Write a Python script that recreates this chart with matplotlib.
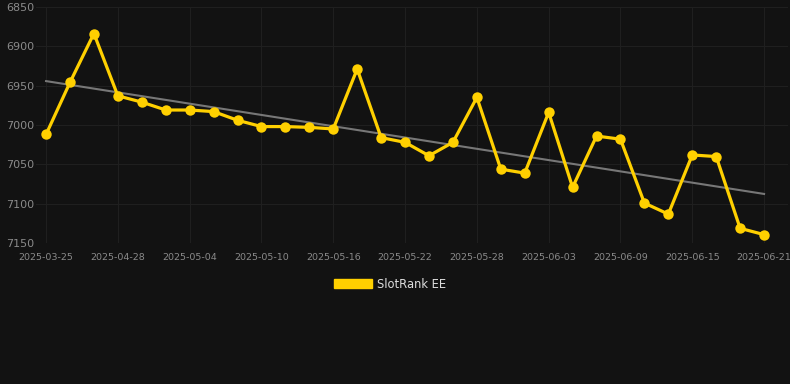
import numpy as np
import matplotlib.pyplot as plt
from matplotlib.patches import Patch

# daily rank values (lower is better, axis is inverted)
dates = ["2025-03-25", "2025-04-24", "2025-04-26", "2025-04-28", "2025-04-30",
         "2025-05-02", "2025-05-04", "2025-05-06", "2025-05-08", "2025-05-10",
         "2025-05-12", "2025-05-14", "2025-05-16", "2025-05-18", "2025-05-20",
         "2025-05-22", "2025-05-24", "2025-05-26", "2025-05-28", "2025-05-30",
         "2025-06-01", "2025-06-03", "2025-06-05", "2025-06-07", "2025-06-09",
         "2025-06-11", "2025-06-13", "2025-06-15", "2025-06-17", "2025-06-19",
         "2025-06-21"]
rank = [7012, 6946, 6884, 6963, 6971, 6981, 6981, 6983, 6994, 7002,
        7002, 7003, 7005, 6929, 7016, 7022, 7039, 7022, 6965, 7056,
        7061, 6984, 7079, 7014, 7018, 7099, 7113, 7038, 7040, 7131,
        7139]
series_name = "SlotRank EE"
y_ticks = [6850, 6900, 6950, 7000, 7050, 7100, 7150]

bg = "#121212"
gold = "#FFD000"

fig = plt.figure(figsize=(7.9, 3.84), dpi=100, facecolor=bg)
ax = fig.add_axes([36 / 790, 1 - 243.3 / 384, 752 / 790, 236.6 / 384])
ax.set_facecolor(bg)

x = np.arange(len(rank))

# trend line
k, b = np.polyfit(x, rank, 1)
ax.plot(x, k * x + b, color="#777777", linewidth=1.5, zorder=2)

ax.plot(x, rank, color=gold, linewidth=2.3, marker="o", markersize=7.5,
        markeredgewidth=0, zorder=3)

ax.set_ylim(7150, 6850)
ax.set_yticks(y_ticks)
ax.set_xlim(-0.42, 31.0)
tick_idx = x[::3]
ax.set_xticks(tick_idx)
ax.set_xticklabels([dates[i] for i in tick_idx])

ax.grid(True, color="#1f1f1f", linewidth=0.8)
ax.set_axisbelow(True)
for s in ax.spines.values():
    s.set_visible(False)
ax.tick_params(axis="y", length=0, pad=1, labelcolor="#8a8a8a", labelsize=8)
ax.tick_params(axis="x", length=0, pad=7, labelcolor="#8a8a8a", labelsize=6.8)

handle = Patch(facecolor=gold, edgecolor=gold)
fig.legend([handle], [series_name], loc="center", bbox_to_anchor=(390 / 790, 1 - 284 / 384),
           frameon=False, fontsize=8.3, labelcolor="#dddddd",
           handlelength=3.3, handleheight=0.9, handletextpad=0.5)

fig.savefig("out.png", dpi=100, facecolor=bg)
